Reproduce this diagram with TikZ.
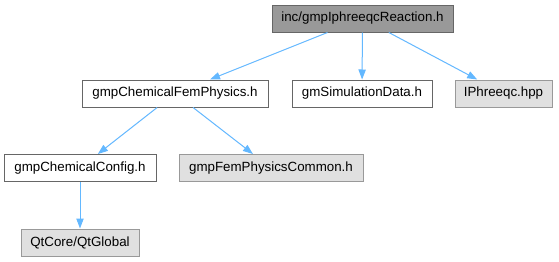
\documentclass[tikz,border=0pt]{standalone}
\usepackage{fontspec}
\setmainfont{Liberation Sans}
\usetikzlibrary{arrows.meta}
\definecolor{edgeblue}{HTML}{63B8FF}
\definecolor{rootfill}{HTML}{999999}
\definecolor{rootdraw}{HTML}{666666}
\definecolor{extfill}{HTML}{E0E0E0}
\definecolor{extdraw}{HTML}{999999}
\tikzset{
  box/.style={draw=rootdraw, fill=white, line width=0.75pt, inner sep=0pt, minimum height=20.25pt, font=\fontsize{10pt}{12pt}\selectfont, text=black},
  rootbox/.style={box, fill=rootfill, draw=rootdraw},
  extbox/.style={box, fill=extfill, draw=extdraw},
  dep/.style={draw=edgeblue, line width=0.75pt, -{Triangle[length=7.5pt,width=5.5pt]}},
}
\begin{document}
\begin{tikzpicture}[x=0.75pt,y=-0.75pt]
\path[use as bounding box, fill=white] (0,0) rectangle (559,261);
\node[rootbox, minimum width=135.75pt] (root) at (362.5,18.5) {inc/gmpIphreeqcReaction.h};
\node[box, minimum width=139.5pt] (fem) at (175,93.5) {gmpChemicalFemPhysics.h};
\node[box, minimum width=105pt] (sim) at (362,93.5) {gmSimulationData.h};
\node[extbox, minimum width=72.75pt] (iph) at (503.5,93.5) {IPhreeqc.hpp};
\node[box, minimum width=114pt] (cfg) at (80,168) {gmpChemicalConfig.h};
\node[extbox, minimum width=138pt] (com) at (271,168) {gmpFemPhysicsCommon.h};
\node[extbox, minimum width=88.5pt] (qt) at (80,242.5) {QtCore/QtGlobal};
\draw[dep] (root) -- (fem);
\draw[dep] (root) -- (sim);
\draw[dep] (root) -- (iph);
\draw[dep] (fem) -- (cfg);
\draw[dep] (fem) -- (com);
\draw[dep] (cfg) -- (qt);
\end{tikzpicture}
\end{document}
